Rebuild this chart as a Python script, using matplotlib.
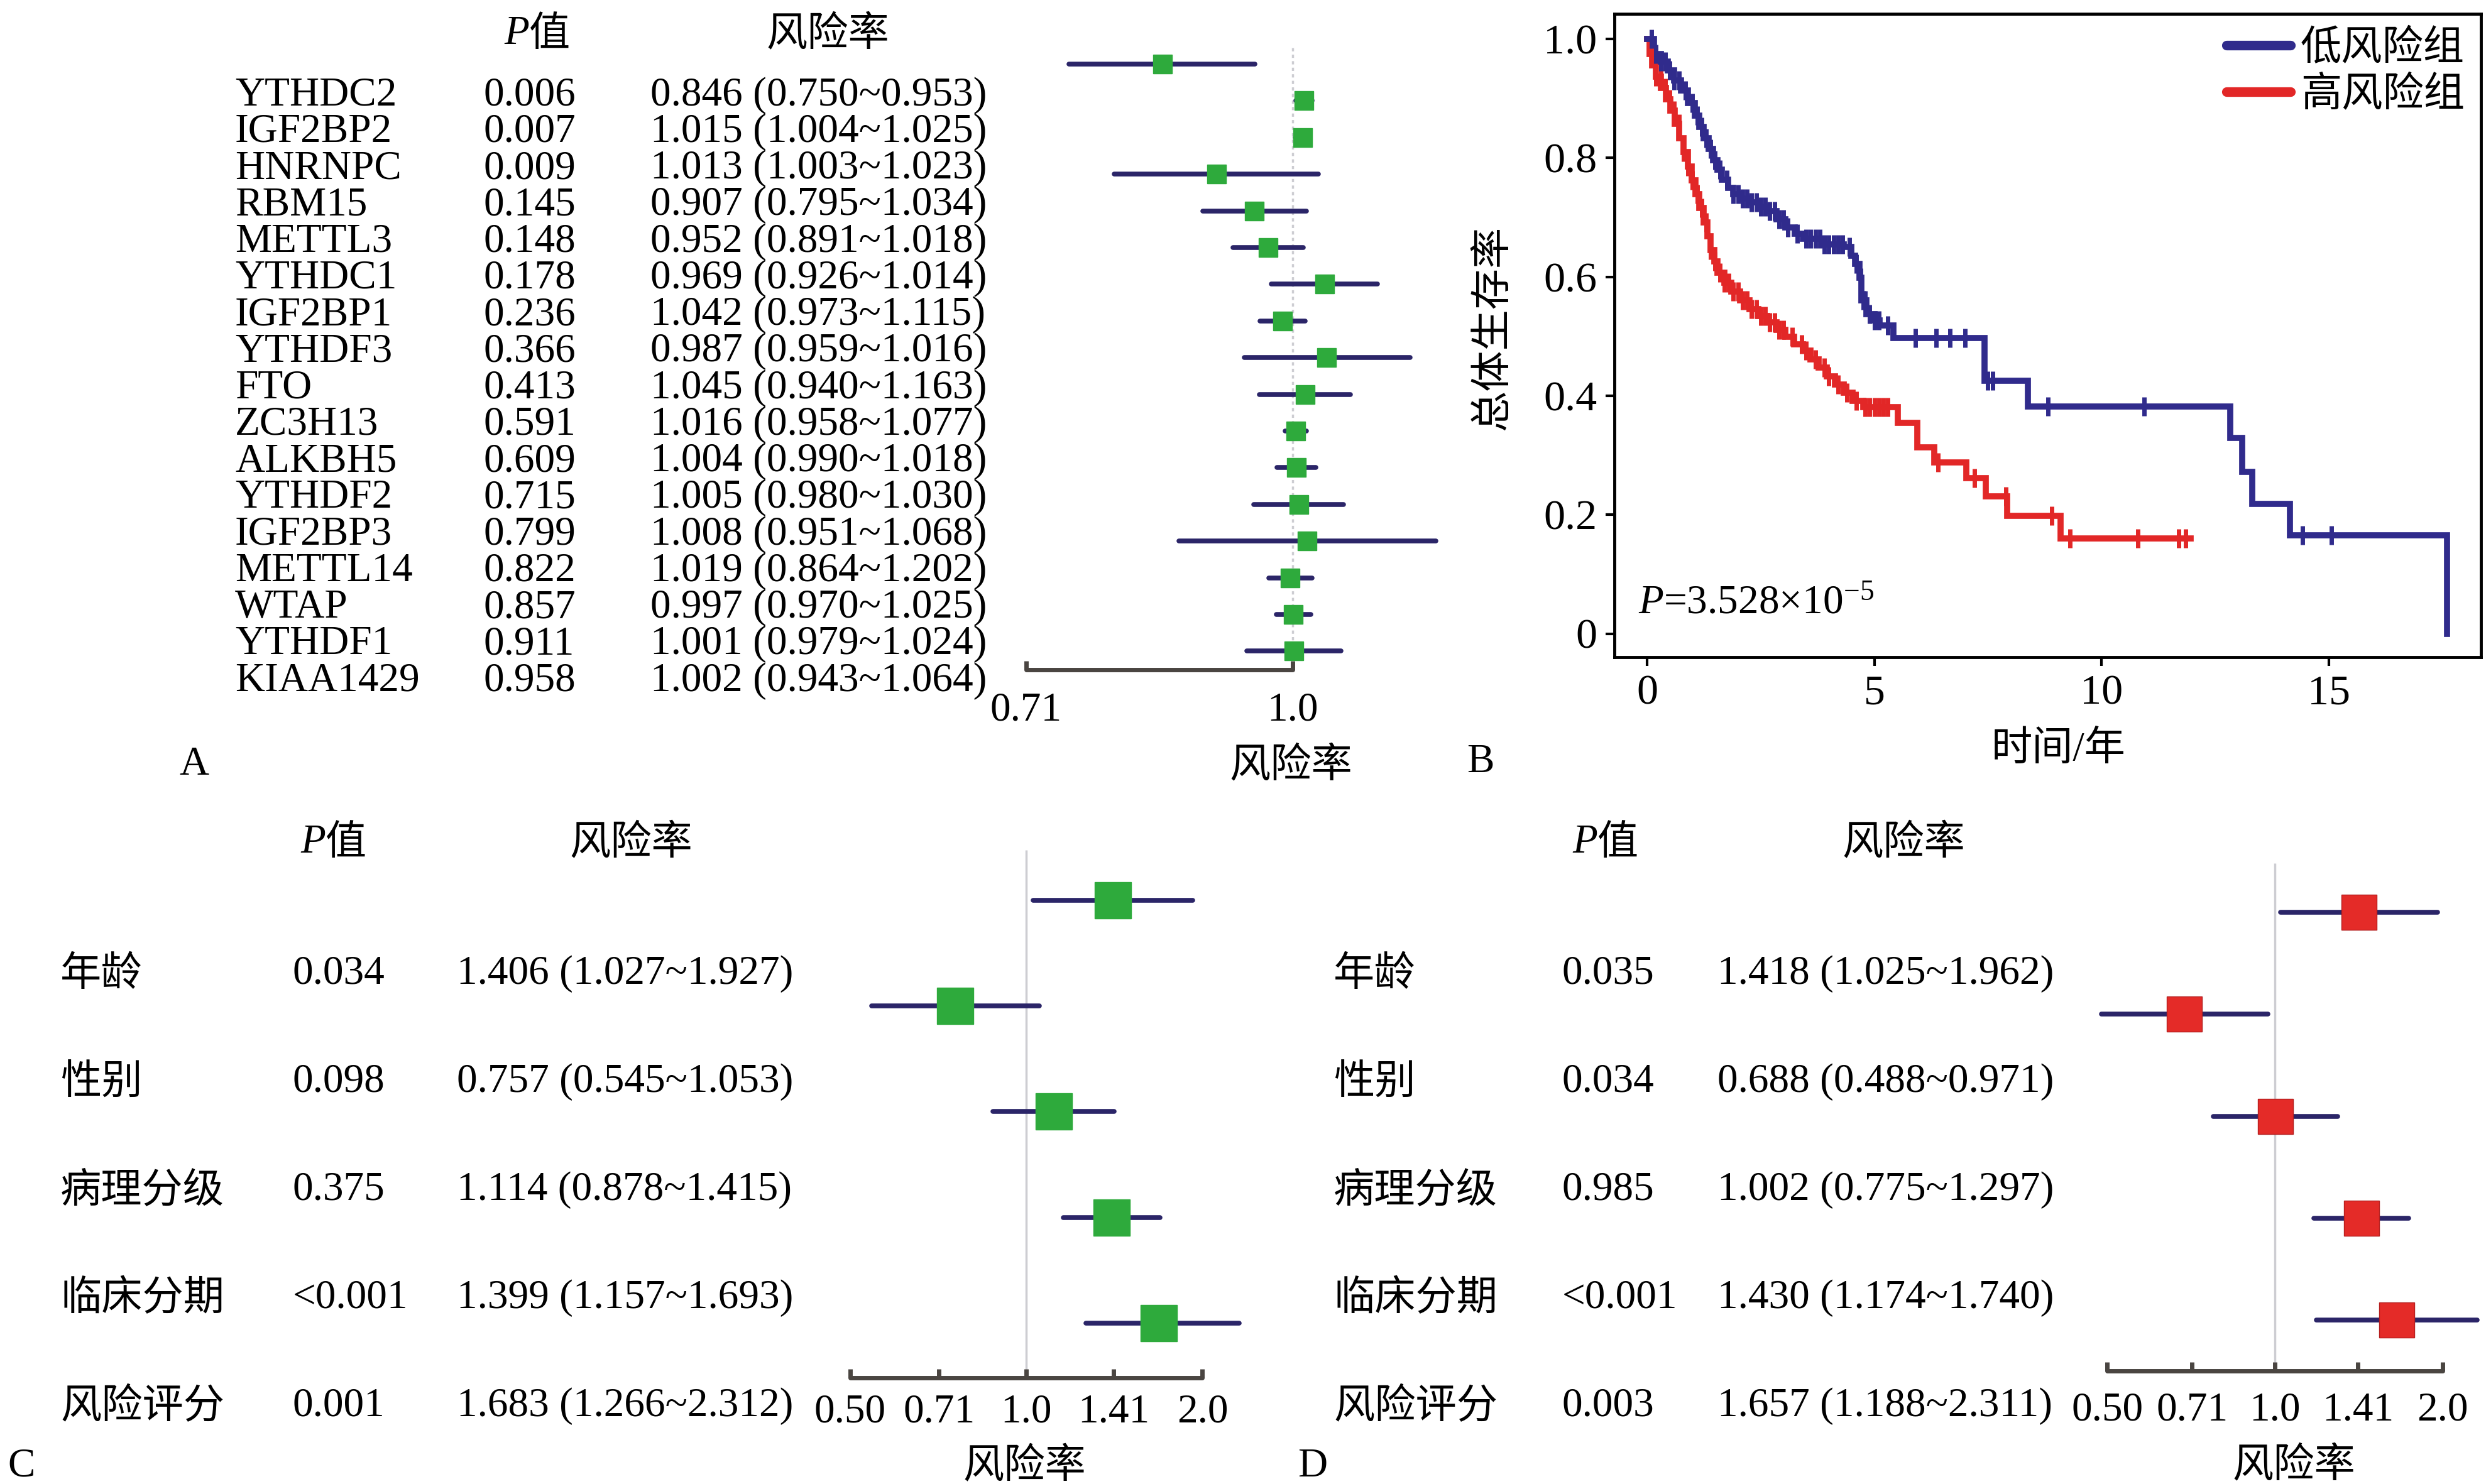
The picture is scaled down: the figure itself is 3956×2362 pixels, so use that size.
import numpy as np
import matplotlib
matplotlib.use('Agg')
import matplotlib.pyplot as plt
from matplotlib.ticker import NullLocator, FixedLocator, FixedFormatter, NullFormatter
from matplotlib.lines import Line2D

plt.rcParams['font.family'] = ['Liberation Serif', 'Noto Sans CJK SC']
plt.rcParams['mathtext.fontset'] = 'custom'
plt.rcParams['mathtext.rm'] = 'Liberation Serif'
plt.rcParams['mathtext.it'] = 'Liberation Serif:italic'

# ---------------- data ----------------
genes = ['YTHDC2', 'IGF2BP2', 'HNRNPC', 'RBM15', 'METTL3', 'YTHDC1', 'IGF2BP1',
         'YTHDF3', 'FTO', 'ZC3H13', 'ALKBH5', 'YTHDF2', 'IGF2BP3', 'METTL14',
         'WTAP', 'YTHDF1', 'KIAA1429']
gene_p = ['0.006', '0.007', '0.009', '0.145', '0.148', '0.178', '0.236', '0.366',
          '0.413', '0.591', '0.609', '0.715', '0.799', '0.822', '0.857', '0.911', '0.958']
gene_hr = [0.846, 1.015, 1.013, 0.907, 0.952, 0.969, 1.042, 0.987, 1.045, 1.016,
           1.004, 1.005, 1.008, 1.019, 0.997, 1.001, 1.002]
gene_lo = [0.750, 1.004, 1.003, 0.795, 0.891, 0.926, 0.973, 0.959, 0.940, 0.958,
           0.990, 0.980, 0.951, 0.864, 0.970, 0.979, 0.943]
gene_hi = [0.953, 1.025, 1.023, 1.034, 1.018, 1.014, 1.115, 1.016, 1.163, 1.077,
           1.018, 1.030, 1.068, 1.202, 1.025, 1.024, 1.064]

clin_vars = ['年龄', '性别', '病理分级', '临床分期', '风险评分']
uni_p = ['0.034', '0.098', '0.375', '<0.001', '0.001']
uni_hr = [1.406, 0.757, 1.114, 1.399, 1.683]
uni_lo = [1.027, 0.545, 0.878, 1.157, 1.266]
uni_hi = [1.927, 1.053, 1.415, 1.693, 2.312]
multi_p = ['0.035', '0.034', '0.985', '<0.001', '0.003']
multi_hr = [1.418, 0.688, 1.002, 1.430, 1.657]
multi_lo = [1.025, 0.488, 0.775, 1.174, 1.188]
multi_hi = [1.962, 0.971, 1.297, 1.740, 2.311]

gene_ticks = [0.71, 1.0]
gene_ticklabels = ['0.71', '1.0']
clin_ticks = [0.50, 0.71, 1.0, 1.41, 2.0]
clin_ticklabels = ['0.50', '0.71', '1.0', '1.41', '2.0']

# Kaplan-Meier curves (step times in years, survival after each step)
low_t = [0.0, 0.15, 0.30, 0.45, 0.60, 0.75, 0.90, 1.05, 1.15, 1.25, 1.35, 1.45,
         1.55, 1.65, 1.78, 1.90, 2.05, 2.25, 2.45, 2.64, 2.85, 3.04, 3.25, 3.43,
         3.88, 4.33, 4.50, 4.57, 4.67, 4.72, 4.82, 5.00, 5.12, 5.42, 7.43, 8.38,
         12.83, 13.09, 13.31, 14.14, 17.60]
low_s = [1.0, 0.975, 0.962, 0.947, 0.930, 0.913, 0.892, 0.871, 0.852, 0.833, 0.815,
         0.796, 0.780, 0.763, 0.750, 0.739, 0.732, 0.725, 0.718, 0.711, 0.697, 0.683,
         0.672, 0.664, 0.655, 0.650, 0.636, 0.622, 0.598, 0.560, 0.537, 0.527, 0.518,
         0.497, 0.425, 0.382, 0.329, 0.272, 0.218, 0.165, 0.0]
low_cens = [0.10, 0.20, 0.30, 0.40, 0.50, 0.60, 0.70, 0.85, 1.00, 1.10, 1.20, 1.30,
            1.40, 1.50, 1.60, 1.75, 1.90, 2.00, 2.10, 2.20, 2.30, 2.40, 2.50, 2.60,
            2.70, 2.80, 2.90, 3.00, 3.10, 3.30, 3.50, 3.60, 3.70, 3.80, 3.90, 4.00,
            4.10, 4.20, 4.30, 4.45, 4.60, 4.70, 4.75, 4.80, 4.90, 5.00, 5.10, 5.30,
            5.91, 6.36, 6.67, 7.00, 7.50, 7.60, 8.82, 10.93, 14.42, 15.06]

high_t = [0.0, 0.06, 0.11, 0.20, 0.31, 0.41, 0.51, 0.61, 0.71, 0.80, 0.90, 0.98,
          1.06, 1.15, 1.25, 1.33, 1.40, 1.48, 1.55, 1.70, 1.85, 2.05, 2.25, 2.45,
          2.64, 2.85, 3.04, 3.23, 3.43, 3.60, 3.78, 3.95, 4.13, 4.33, 4.52, 4.75,
          5.52, 5.94, 6.32, 7.03, 7.45, 7.92, 9.10, 11.96]
high_s = [1.0, 0.975, 0.956, 0.937, 0.918, 0.899, 0.880, 0.857, 0.833, 0.810, 0.786,
          0.762, 0.739, 0.716, 0.692, 0.668, 0.645, 0.626, 0.607, 0.590, 0.575, 0.560,
          0.546, 0.534, 0.523, 0.511, 0.499, 0.487, 0.476, 0.461, 0.447, 0.433, 0.419,
          0.405, 0.391, 0.381, 0.354, 0.313, 0.288, 0.262, 0.231, 0.198, 0.160, 0.160]
high_cens = [0.10, 0.20, 0.30, 0.40, 0.50, 0.60, 0.70, 0.80, 0.90, 1.00, 1.10, 1.20,
             1.30, 1.40, 1.50, 1.60, 1.70, 1.80, 1.90, 2.00, 2.10, 2.20, 2.30, 2.40,
             2.50, 2.60, 2.70, 2.80, 2.90, 3.00, 3.20, 3.40, 3.50, 3.70, 3.90, 4.00,
             4.20, 4.40, 4.60, 4.80, 4.90, 5.00, 5.10, 5.20, 5.30, 6.40, 7.20, 7.90,
             8.90, 9.30, 10.80, 11.70, 11.85]

km_labels = ['低风险组', '高风险组']
km_pvalue = r'$P$=3.528×10$^{-5}$'

# ---------------- styles ----------------
W, H = 3956, 2362
FS = 47
LINE = '#2b2568'
GREEN = '#2eaa3c'
RED = '#e42b28'
REDEDGE = '#b51f1f'
BLUE = '#302b8c'
KMRED = '#e22727'
SPINE = '#4a4541'

fig = plt.figure(figsize=(W / 100, H / 100), dpi=100)


def fx(x):
    return x / W


def fy(y):
    return 1 - y / H


def tx(x, yc, s, ha='left', cjk=False, size=FS, **kw):
    off = (0.38 if cjk else 0.33) * size * 100 / 72.0
    fig.text(fx(x), fy(yc + off), s, ha=ha, va='baseline', fontsize=size, **kw)


def header_p(x_split, yc):
    tx(x_split, yc, 'P', ha='right', style='italic')
    tx(x_split, yc, '值', ha='left', cjk=True)


def forest(rect_px, one_px, k, row0, rsp, bracket_px, ref_top_px, hr, lo, hi,
           ticks, ticklabels, mcol, medge, msize, refstyle, pad):
    l, t, r, b = rect_px
    ax = fig.add_axes([fx(l), fy(b), (r - l) / W, (b - t) / H])
    ax.patch.set_visible(False)
    ax.set_xscale('log')
    ax.set_xlim(np.exp((l - one_px) / k), np.exp((r - one_px) / k))
    ax.set_ylim((b - row0) / rsp, (t - row0) / rsp)
    rows = np.arange(len(hr))
    brow = (bracket_px - row0) / rsp
    ax.vlines(1.0, (ref_top_px - row0) / rsp, brow, colors='#cdcdd2', lw=2.5,
              linestyles=refstyle, zorder=1)
    ax.hlines(rows, lo, hi, colors=LINE, lw=5.5, capstyle='round', zorder=2)
    ax.plot(hr, rows, 's', ms=msize, mfc=mcol, mec=medge, mew=1.0, ls='none', zorder=3)
    for sp in ['top', 'left', 'right']:
        ax.spines[sp].set_visible(False)
    ax.spines['bottom'].set_position(('data', brow))
    ax.spines['bottom'].set_bounds(ticks[0], ticks[-1])
    ax.spines['bottom'].set_color(SPINE)
    ax.spines['bottom'].set_linewidth(5)
    ax.spines['bottom'].set_capstyle('round')
    ax.xaxis.set_major_locator(FixedLocator(ticks))
    ax.xaxis.set_major_formatter(FixedFormatter(ticklabels))
    ax.xaxis.set_minor_locator(NullLocator())
    ax.xaxis.set_minor_formatter(NullFormatter())
    ax.tick_params(axis='x', direction='in', length=10, width=5, color=SPINE,
                   labelsize=FS, pad=pad)
    ax.set_yticks([])
    return ax


# ---------------- panel A ----------------
header_p(842, 48)
tx(1317, 48, '风险率', ha='center', cjk=True)
for i, g in enumerate(genes):
    yc = 146 + 58.25 * i
    tx(374, yc, g)
    tx(770, yc, gene_p[i])
    tx(1035, yc, f'{gene_hr[i]:.3f} ({gene_lo[i]:.3f}~{gene_hi[i]:.3f})')
forest((1560, 40, 2330, 1150), 2057, 1238, 102, 58.4, 1066, 76,
       gene_hr, gene_lo, gene_hi, gene_ticks, gene_ticklabels,
       GREEN, GREEN, 22, (0, (1.5, 1.5)), 25)
tx(2054, 1212, '风险率', ha='center', cjk=True)
tx(309, 1211, 'A', ha='center')

# ---------------- panel C ----------------
header_p(518, 1335)
tx(1004, 1335, '风险率', ha='center', cjk=True)
for i, v in enumerate(clin_vars):
    yc = 1544 + 172 * i
    tx(96, yc, v, cjk=True)
    tx(466, yc, uni_p[i])
    tx(727, yc, f'{uni_hr[i]:.3f} ({uni_lo[i]:.3f}~{uni_hi[i]:.3f})')
forest((1330, 1340, 1995, 2205), 1633, 404.6, 1433, 168.2, 2193, 1353,
       uni_hr, uni_lo, uni_hi, clin_ticks, clin_ticklabels,
       GREEN, GREEN, 42, 'solid', 18)
tx(1630, 2327, '风险率', ha='center', cjk=True)
tx(34, 2328, 'C', ha='center')

# ---------------- panel D ----------------
header_p(2542, 1335)
tx(3029, 1335, '风险率', ha='center', cjk=True)
for i, v in enumerate(clin_vars):
    yc = 1544 + 172 * i
    tx(2122, yc, v, cjk=True)
    tx(2486, yc, multi_p[i])
    tx(2733, yc, f'{multi_hr[i]:.3f} ({multi_lo[i]:.3f}~{multi_hi[i]:.3f})')
forest((3290, 1360, 3956, 2195), 3620, 384.5, 1452, 162.3, 2182, 1374,
       multi_hr, multi_lo, multi_hi, clin_ticks, clin_ticklabels,
       RED, REDEDGE, 40, 'solid', 24)
tx(3650, 2326, '风险率', ha='center', cjk=True)
tx(2089, 2328, 'D', ha='center')

# ---------------- panel B (KM) ----------------
L, T, R, B = 2569, 22, 3948, 1046
axb = fig.add_axes([fx(L), fy(B), (R - L) / W, (B - T) / H])
x0_px, xk = 2621, 72.33
y0_px, yk = 1008.5, 946.5
axb.set_xlim((L - x0_px) / xk, (R - x0_px) / xk)
axb.set_ylim((y0_px - B) / yk, (y0_px - T) / yk)


def km(t, s, cens, col):
    t = np.asarray(t)
    s = np.asarray(s)
    axb.step(t, s, where='post', color=col, lw=7, solid_joinstyle='miter', zorder=2)
    c = np.asarray(cens)
    idx = np.searchsorted(t, c, side='right') - 1
    axb.plot(c, s[idx], '|', color=col, ms=22, mew=5, ls='none', zorder=3)


km(high_t, high_s, high_cens, KMRED)
km(low_t, low_s, low_cens, BLUE)

axb.set_xticks([0, 5, 10, 15])
axb.set_xticklabels(['0', '5', '10', '15'])
axb.set_yticks([0, 0.2, 0.4, 0.6, 0.8, 1.0])
axb.set_yticklabels(['0', '0.2', '0.4', '0.6', '0.8', '1.0'])
axb.tick_params(direction='out', length=10, width=3, labelsize=49, pad=10, color='black')
for sp in axb.spines.values():
    sp.set_linewidth(3.5)
    sp.set_color('black')

handles = [Line2D([], [], color=BLUE, lw=11, solid_capstyle='round'),
           Line2D([], [], color=KMRED, lw=11, solid_capstyle='round')]
axb.legend(handles, km_labels, loc='upper right', frameon=False, fontsize=FS,
           handlelength=1.55, handletextpad=0.25, labelspacing=0.2,
           borderpad=0.1, borderaxespad=0.3)
axb.text(-0.2, 0.051, km_pvalue, fontsize=FS, ha='left', va='center')

fig.text(fx(2377), fy(522), '总体生存率', rotation=90, ha='center', va='center', fontsize=FS)
fig.text(fx(3276), fy(1194), '时间/年', ha='center', va='center', fontsize=FS)
tx(2356, 1207, 'B', ha='center')

fig.savefig('out.png', dpi=100, facecolor='white')
